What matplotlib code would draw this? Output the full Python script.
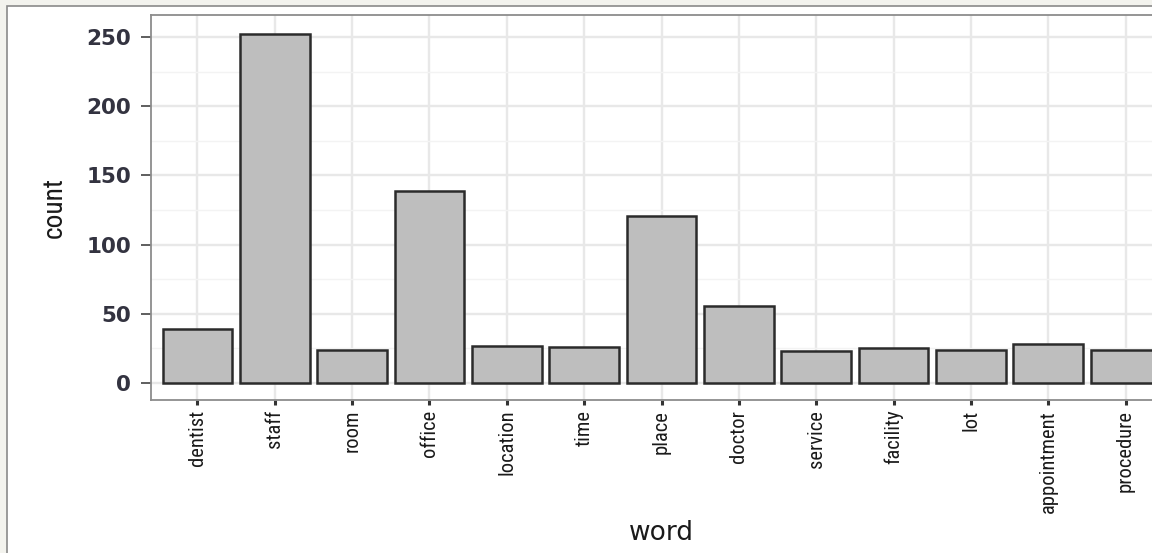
import numpy as np
import matplotlib
matplotlib.use("Agg")
import matplotlib.pyplot as plt
from matplotlib.patches import Rectangle

words = ["dentist", "staff", "room", "office", "location", "time", "place",
         "doctor", "service", "facility", "lot", "appointment", "procedure"]
counts = [39, 252, 24, 139, 27, 26, 121, 56, 23, 25, 24, 28, 24]
y_ticks = [0, 50, 100, 150, 200, 250]

W, H = 1152, 553
narrow = ["Liberation Sans Narrow", "Roboto Condensed", "DejaVu Sans"]

fig = plt.figure(figsize=(W / 100, H / 100), dpi=100, facecolor="#f3f3ee")

# white page with a thin grey frame (screenshot border)
fig.add_artist(Rectangle((6.5 / W, -0.01), 1.0, (H - 5.5) / H + 0.01,
                         transform=fig.transFigure, facecolor="white",
                         edgecolor="#8a8a8a", linewidth=1.2, zorder=0))

# panel: left 151px, right 1172px (off the picture), top 15px, bottom 400px
ax = fig.add_axes([151 / W, (H - 400) / H, (1172 - 151) / W, (400 - 15) / H])
ax.set_facecolor("white")

x = np.arange(len(words))
ax.bar(x, counts, width=0.9, color="#bebebe", edgecolor="#2b2b2b",
       linewidth=1.8, zorder=3)

ax.set_xlim(-0.6, len(words) - 0.4)
ax.set_ylim(-12.3, 266)

ax.set_yticks(y_ticks)
ax.set_yticks(np.arange(25, 275, 50), minor=True)
ax.set_xticks(x)
ax.set_xticklabels(words, rotation=90, va="top", ha="center",
                   family=narrow, fontsize=14.8, color="#1a1a1a")
ax.set_yticklabels([str(v) for v in y_ticks], family="DejaVu Sans",
                   fontweight="bold", fontsize=15.5, color="#333340")

ax.grid(which="major", color="#e8e8e8", linewidth=1.7, zorder=0)
ax.grid(which="minor", axis="y", color="#f3f3f3", linewidth=1.0, zorder=0)
ax.set_axisbelow(True)

ax.tick_params(axis="y", which="major", length=7.2, width=1.1,
               color="#333333", pad=7)
ax.tick_params(axis="y", which="minor", length=0)
ax.tick_params(axis="x", length=3.6, width=2.2, color="#333333", pad=3.5)

for s in ax.spines.values():
    s.set_color("#8c8c8c")
    s.set_linewidth(1.3)

fig.text(54 / W, 1 - 208 / H, "count", rotation=90, ha="center", va="center",
         family=narrow, fontsize=19.8, color="#1a1a1a")
fig.text(661 / W, 1 - 540 / H, "word", ha="center", va="baseline",
         family="DejaVu Sans", fontsize=19, color="#1a1a1a")

fig.savefig("out.png", dpi=100, facecolor=fig.get_facecolor())
